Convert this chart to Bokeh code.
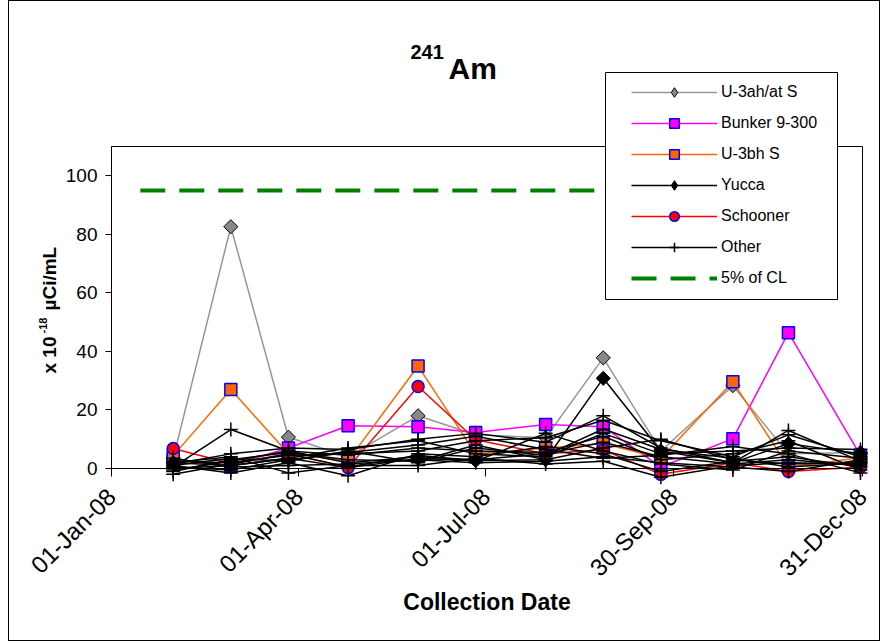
import numpy as np
from math import pi
from bokeh.plotting import figure
from bokeh.models import (ColumnDataSource, Range1d, FixedTicker, Legend, LegendItem,
                          Label, BoxAnnotation)
from bokeh.embed import file_html
from bokeh.resources import INLINE

# ---------------- data ----------------
dates = ["2008-01-31", "2008-02-28", "2008-03-27", "2008-04-25", "2008-05-29", "2008-06-26",
         "2008-07-30", "2008-08-27", "2008-09-24", "2008-10-29", "2008-11-25", "2008-12-30"]

u3ah_at_s = [3.5, 82.6, 10.7, 4.0, 18.0, 11.5, 10.5, 37.8, 6.0, 28.3, 5.0, 5.5]
bunker_9_300 = [3.0, 1.0, 7.0, 14.6, 14.3, 12.3, 15.0, 14.3, 0.5, 10.2, 46.4, 4.5]
u3bh_s = [4.4, 27.0, 5.0, 2.7, 35.0, 5.0, 7.0, 8.5, 3.5, 29.6, 0.5, 3.7]
yucca = [2.0, 1.0, 3.5, 0.3, 3.4, 2.7, 3.0, 30.8, 6.0, 2.0, 8.5, 5.0]
schooner = [6.8, 1.7, 5.0, 0.3, 28.0, 9.8, 5.0, 6.4, -2.0, 2.0, -1.0, 0.5]

other_1 = [0.5, 13.3, 6.0, 2.0, 4.0, 3.0, 5.0, 9.0, 4.0, 1.5, 3.0, 1.0]
other_2 = [1.5, 5.0, 7.0, 6.5, 10.0, 12.0, 9.0, 18.0, 7.0, 2.0, 13.0, 2.5]
other_3 = [2.5, 2.0, 4.5, 5.0, 6.0, 9.5, 10.5, 16.5, 9.5, 4.0, 11.5, 4.0]
other_4 = [0.0, 1.0, 3.5, 7.0, 9.5, 5.0, 4.0, 12.0, 5.0, 6.0, 7.0, 6.5]
other_5 = [-1.0, 3.0, 5.5, 3.0, 2.5, 8.0, 3.0, 7.0, 10.0, 3.0, 1.5, 2.0]
other_6 = [1.0, -1.5, 2.0, -2.5, 5.0, 4.0, 7.5, 5.0, -1.0, 2.5, 4.0, 0.5]
other_7 = [3.5, 0.5, 1.0, 1.5, 3.0, 2.0, 2.5, 4.0, 2.0, 0.5, -1.0, 3.0]
other_8 = [-0.5, 2.5, 6.0, 4.5, 7.0, 6.0, 5.5, 11.0, 3.0, 5.0, 9.5, -0.5]
other_9 = [2.0, 4.0, -1.5, 1.0, 1.0, 3.5, 1.5, 2.5, -3.0, 1.0, 2.0, 1.5]
other_10 = [0.5, -0.5, 3.0, 5.5, 8.0, 11.0, 6.5, 3.5, 4.5, 7.5, 5.0, -1.5]
other_11 = [-2.0, 1.5, 5.0, 0.5, 4.5, 2.5, 12.0, 6.0, 1.5, -0.5, 6.0, 3.5]
other_12 = [1.0, 3.5, 2.5, 6.0, 2.0, 7.0, 4.5, 13.5, 6.5, 3.5, 0.5, 2.0]
others = [other_1, other_2, other_3, other_4, other_5, other_6,
          other_7, other_8, other_9, other_10, other_11, other_12]

cl_dates = ["2008-01-15", "2008-12-01"]
cl_values = [95, 95]

axis_start, axis_end = "2008-01-01", "2008-12-31"
y_min, y_max = 0, 110
tick_dates = ["2008-01-01", "2008-04-01", "2008-07-01", "2008-09-30", "2008-12-31"]
tick_labels = ["01-Jan-08", "01-Apr-08", "01-Jul-08", "30-Sep-08", "31-Dec-08"]
y_ticks = [0, 20, 40, 60, 80, 100]

# ---------------- layout (page pixels) ----------------
W, H = 872, 641
CX0, CY0 = 9, 1                 # canvas origin on the page (margin + border)
PLOT_L, PLOT_R = 111, 862       # plot area left/right on the page
PLOT_T, PLOT_0 = 146, 468       # plot area top (y=110) and y=0 line on the page


def ms(d):
    return float((np.datetime64(d) - np.datetime64("1970-01-01")) / np.timedelta64(1, "ms"))


def sx(px):  # page x -> frame screen x
    return px - CX0


def sy(py):  # page y -> frame screen y (upwards)
    return CY0 + H - py


x0, x1 = ms(axis_start), ms(axis_end)
px_per_ms = (PLOT_R - PLOT_L) / (x1 - x0)
py_per_unit = (PLOT_0 - PLOT_T) / (y_max - y_min)
xr = Range1d(x0 - (PLOT_L - CX0) / px_per_ms, x1 + (CX0 + W - PLOT_R) / px_per_ms)
yr = Range1d(y_min - (CY0 + H - PLOT_0) / py_per_unit, y_max + (PLOT_T - CY0) / py_per_unit)

FONT = "Liberation Sans"
x = [ms(d) for d in dates]

p = figure(width=W, height=H, output_backend="svg", toolbar_location=None,
           x_axis_type="datetime", x_range=xr, y_range=yr, title=None,
           min_border=0, min_border_left=0, min_border_right=0,
           min_border_top=0, min_border_bottom=0)
p.styles = {"border": "1px solid #000000", "margin-left": "8px"}
p.xgrid.visible = False
p.ygrid.visible = False
p.outline_line_color = None
p.background_fill_color = "white"
p.border_fill_color = "white"

# axes
xa = p.xaxis[0]
xa.ticker = FixedTicker(ticks=[ms(d) for d in tick_dates])
xa.major_label_overrides = {ms(d): lab for d, lab in zip(tick_dates, tick_labels)}
xa.major_label_orientation = pi / 4
xa.fixed_location = 0
xa.bounds = (x0, x1)
xa.major_tick_in = 0
xa.major_tick_out = 8
xa.minor_tick_out = 0
xa.minor_tick_in = 0
xa.major_label_standoff = 16
xa.major_label_text_font = FONT
xa.major_label_text_font_size = "24px"
xa.major_label_text_color = "black"
xa.axis_line_color = "black"
xa.major_tick_line_color = "black"

ya = p.yaxis[0]
ya.ticker = FixedTicker(ticks=y_ticks)
ya.fixed_location = x0
ya.bounds = (y_min, y_max)
ya.major_tick_in = 0
ya.major_tick_out = 6
ya.minor_tick_in = 0
ya.minor_tick_out = 0
ya.major_label_standoff = 8
ya.major_label_text_font = FONT
ya.major_label_text_font_size = "19px"
ya.major_label_text_color = "black"
ya.axis_line_color = "black"
ya.major_tick_line_color = "black"

# plot-area border
p.add_layout(BoxAnnotation(left=x0, right=x1, bottom=y_min, top=y_max,
                           fill_alpha=0, line_color="black", line_width=1, line_alpha=1.0))

LW = 1.5

# U-3ah/at S
src_u3ah = ColumnDataSource(data=dict(x=x, y=u3ah_at_s))
l_u3ah = p.line("x", "y", source=src_u3ah, line_color="#969696", line_width=LW)
p.scatter("x", "y", source=src_u3ah, marker="square", angle=pi / 4, size=10,
          fill_color="#888888", line_color="black", line_width=1)

# Bunker 9-300
src = ColumnDataSource(data=dict(x=x, y=bunker_9_300))
l_bunker = p.line("x", "y", source=src, line_color="#FF00FF", line_width=LW)
s_bunker = p.scatter("x", "y", source=src, marker="square", size=12,
                     fill_color="#FF00FF", line_color="#0000FF", line_width=1.5)

# U-3bh S
src = ColumnDataSource(data=dict(x=x, y=u3bh_s))
l_u3bh = p.line("x", "y", source=src, line_color="#FF6600", line_width=LW)
s_u3bh = p.scatter("x", "y", source=src, marker="square", size=12,
                   fill_color="#FF6600", line_color="#0000FF", line_width=1.5)

# Yucca
src_yucca = ColumnDataSource(data=dict(x=x, y=yucca))
l_yucca = p.line("x", "y", source=src_yucca, line_color="black", line_width=LW)
p.scatter("x", "y", source=src_yucca, marker="square", angle=pi / 4, size=10,
          fill_color="black", line_color="black", line_width=1)

# Schooner
src = ColumnDataSource(data=dict(x=x, y=schooner))
l_schooner = p.line("x", "y", source=src, line_color="#FF0000", line_width=LW)
s_schooner = p.scatter("x", "y", source=src, marker="circle", size=12,
                       fill_color="#FF0000", line_color="#0000FF", line_width=1.5)

# Other
other_lines, other_marks = [], []
for vals in others:
    src = ColumnDataSource(data=dict(x=x, y=vals))
    other_lines.append(p.line("x", "y", source=src, line_color="black", line_width=LW))
    other_marks.append(p.scatter("x", "y", source=src, marker="cross", size=14,
                                 line_color="black", line_width=1.5))

# 5% of CL
src = ColumnDataSource(data=dict(x=[ms(d) for d in cl_dates], y=cl_values))
l_cl = p.line("x", "y", source=src, line_color="#008000", line_width=4, line_dash="25 14")

# legend-only diamond markers (hidden in the plot, drawn by the legend)
s_u3ah_leg = p.scatter("x", "y", source=src_u3ah, marker="diamond", size=14,
                       fill_color="#888888", line_color="black", line_width=1, visible=False)
s_yucca_leg = p.scatter("x", "y", source=src_yucca, marker="diamond", size=14,
                        fill_color="black", line_color="black", line_width=1, visible=False)

# legend box + legend
p.add_layout(BoxAnnotation(left=sx(605), right=sx(837), bottom=sy(299), top=sy(72),
                           left_units="screen", right_units="screen",
                           top_units="screen", bottom_units="screen",
                           fill_color="white", fill_alpha=1.0,
                           line_color="black", line_width=1, line_alpha=1.0))

items = [
    LegendItem(label="U-3ah/at S", renderers=[l_u3ah, s_u3ah_leg]),
    LegendItem(label="Bunker 9-300", renderers=[l_bunker, s_bunker]),
    LegendItem(label="U-3bh S", renderers=[l_u3bh, s_u3bh]),
    LegendItem(label="Yucca", renderers=[l_yucca, s_yucca_leg]),
    LegendItem(label="Schooner", renderers=[l_schooner, s_schooner]),
    LegendItem(label="Other", renderers=[other_lines[0], other_marks[0]]),
    LegendItem(label="5% of CL", renderers=[l_cl]),
]
legend = Legend(items=items, location=(sx(631), sy(290)), padding=8, spacing=7,
                glyph_width=86, glyph_height=24, label_height=24, label_standoff=4,
                label_text_font=FONT, label_text_font_size="16px", label_text_color="black",
                border_line_color=None, background_fill_alpha=0, margin=0,
                inactive_fill_alpha=0)
p.add_layout(legend)


def txt(text, px, py, size, angle=0.0, align="left", baseline="alphabetic"):
    p.add_layout(Label(x=sx(px), y=sy(py), x_units="screen", y_units="screen", text=text,
                       angle=angle, text_font=FONT, text_font_style="bold",
                       text_font_size=size, text_align=align, text_baseline=baseline,
                       text_color="black"))


# title with superscript
txt("241", 410, 51, "20px")
txt("Am", 448, 68, "30px")

# y-axis label with superscript
txt("x 10", 49, 373, "19px", angle=pi / 2)
txt("-18", 42, 333, "11px", angle=pi / 2)
txt("\u00b5Ci/mL", 49, 310, "19px", angle=pi / 2)

# x-axis title
txt("Collection Date", (PLOT_L + PLOT_R) / 2, 601, "23px", align="center", baseline="middle")

open("out.html", "w").write(file_html(p, INLINE))
